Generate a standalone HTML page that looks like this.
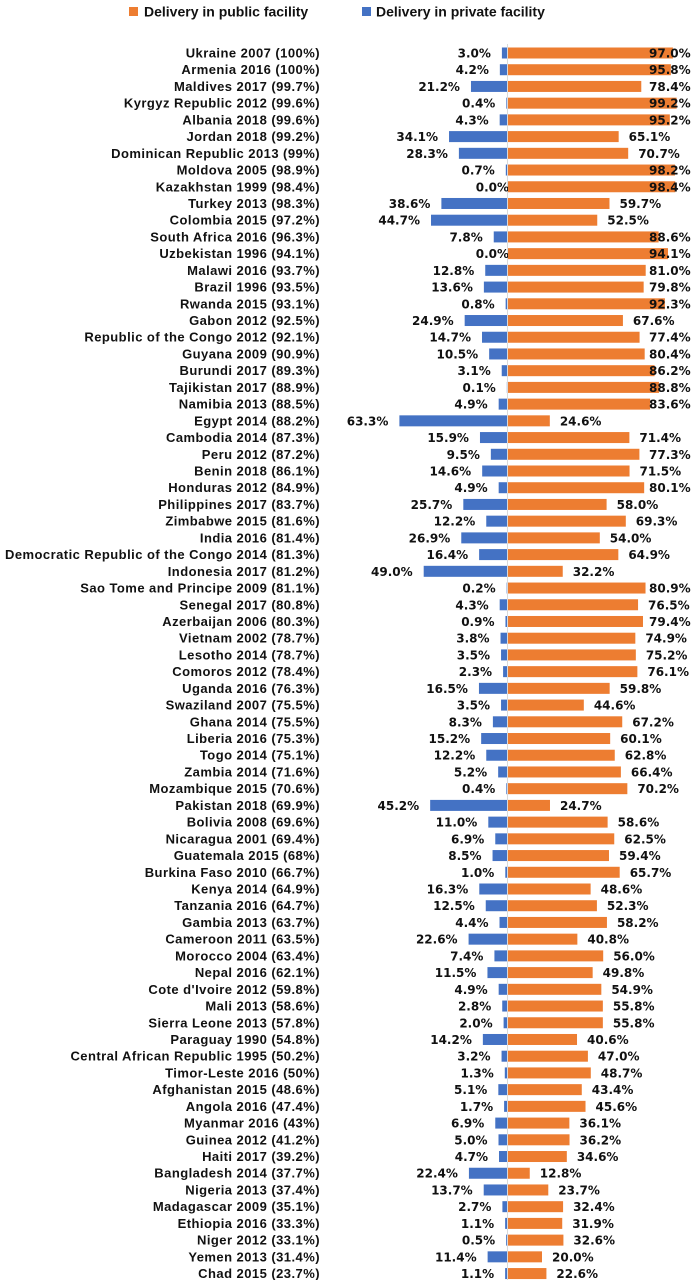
<!DOCTYPE html>
<html><head><meta charset="utf-8"><style>
html,body{margin:0;padding:0;background:#fff;}
svg{display:block;}
.lbl{font-family:"Liberation Sans",sans-serif;font-weight:bold;font-size:13px;letter-spacing:0.45px;fill:#111;}
.val{font-family:"DejaVu Sans",sans-serif;font-weight:bold;font-size:12px;fill:#111;}
.leg{font-family:"Liberation Sans",sans-serif;font-weight:bold;font-size:14px;fill:#111;}
</style></head><body>
<svg id="chart" width="695" height="1280" viewBox="0 0 695 1280" xmlns="http://www.w3.org/2000/svg">
<g>
<rect x="129" y="7" width="9" height="9" fill="#ED7D31"/>
<text class="leg" x="144" y="16.5">Delivery in public facility</text>
<rect x="362" y="7" width="9" height="9" fill="#4472C4"/>
<text class="leg" x="376" y="16.5">Delivery in private facility</text>
</g>
<line x1="507.5" y1="44" x2="507.5" y2="1280" stroke="#d9d9d9" stroke-width="1"/>
<g id="rows"></g>
</svg>
<script>
const categories = ["Ukraine 2007 (100%)","Armenia 2016 (100%)","Maldives 2017 (99.7%)","Kyrgyz Republic 2012 (99.6%)","Albania 2018 (99.6%)","Jordan 2018 (99.2%)","Dominican Republic 2013 (99%)","Moldova 2005 (98.9%)","Kazakhstan 1999 (98.4%)","Turkey 2013 (98.3%)","Colombia 2015 (97.2%)","South Africa 2016 (96.3%)","Uzbekistan 1996 (94.1%)","Malawi 2016 (93.7%)","Brazil 1996 (93.5%)","Rwanda 2015 (93.1%)","Gabon 2012 (92.5%)","Republic of the Congo 2012 (92.1%)","Guyana 2009 (90.9%)","Burundi 2017 (89.3%)","Tajikistan 2017 (88.9%)","Namibia 2013 (88.5%)","Egypt 2014 (88.2%)","Cambodia 2014 (87.3%)","Peru 2012 (87.2%)","Benin 2018 (86.1%)","Honduras 2012 (84.9%)","Philippines 2017 (83.7%)","Zimbabwe 2015 (81.6%)","India 2016 (81.4%)","Democratic Republic of the Congo 2014 (81.3%)","Indonesia 2017 (81.2%)","Sao Tome and Principe 2009 (81.1%)","Senegal 2017 (80.8%)","Azerbaijan 2006 (80.3%)","Vietnam 2002 (78.7%)","Lesotho 2014 (78.7%)","Comoros 2012 (78.4%)","Uganda 2016 (76.3%)","Swaziland 2007 (75.5%)","Ghana 2014 (75.5%)","Liberia 2016 (75.3%)","Togo 2014 (75.1%)","Zambia 2014 (71.6%)","Mozambique 2015 (70.6%)","Pakistan 2018 (69.9%)","Bolivia 2008 (69.6%)","Nicaragua 2001 (69.4%)","Guatemala 2015 (68%)","Burkina Faso 2010 (66.7%)","Kenya 2014 (64.9%)","Tanzania 2016 (64.7%)","Gambia 2013 (63.7%)","Cameroon 2011 (63.5%)","Morocco 2004 (63.4%)","Nepal 2016 (62.1%)","Cote d'Ivoire 2012 (59.8%)","Mali 2013 (58.6%)","Sierra Leone 2013 (57.8%)","Paraguay 1990 (54.8%)","Central African Republic 1995 (50.2%)","Timor-Leste 2016 (50%)","Afghanistan 2015 (48.6%)","Angola 2016 (47.4%)","Myanmar 2016 (43%)","Guinea 2012 (41.2%)","Haiti 2017 (39.2%)","Bangladesh 2014 (37.7%)","Nigeria 2013 (37.4%)","Madagascar 2009 (35.1%)","Ethiopia 2016 (33.3%)","Niger 2012 (33.1%)","Yemen 2013 (31.4%)","Chad 2015 (23.7%)"];
const privateValues = [3.0,4.2,21.2,0.4,4.3,34.1,28.3,0.7,0.0,38.6,44.7,7.8,0.0,12.8,13.6,0.8,24.9,14.7,10.5,3.1,0.1,4.9,63.3,15.9,9.5,14.6,4.9,25.7,12.2,26.9,16.4,49.0,0.2,4.3,0.9,3.8,3.5,2.3,16.5,3.5,8.3,15.2,12.2,5.2,0.4,45.2,11.0,6.9,8.5,1.0,16.3,12.5,4.4,22.6,7.4,11.5,4.9,2.8,2.0,14.2,3.2,1.3,5.1,1.7,6.9,5.0,4.7,22.4,13.7,2.7,1.1,0.5,11.4,1.1];
const publicValues = [97.0,95.8,78.4,99.2,95.2,65.1,70.7,98.2,98.4,59.7,52.5,88.6,94.1,81.0,79.8,92.3,67.6,77.4,80.4,86.2,88.8,83.6,24.6,71.4,77.3,71.5,80.1,58.0,69.3,54.0,64.9,32.2,80.9,76.5,79.4,74.9,75.2,76.1,59.8,44.6,67.2,60.1,62.8,66.4,70.2,24.7,58.6,62.5,59.4,65.7,48.6,52.3,58.2,40.8,56.0,49.8,54.9,55.8,55.8,40.6,47.0,48.7,43.4,45.6,36.1,36.2,34.6,12.8,23.7,32.4,31.9,32.6,20.0,22.6];

const NS = "http://www.w3.org/2000/svg";
const x0 = 507.5, pxPerPct = 1.70;
const xScale = v => v * pxPerPct;
const yScale = i => 53 + i * 16.72;
const barH = 11;
const g = document.getElementById('rows');
function mk(tag, attrs){const e=document.createElementNS(NS,tag);for(const k in attrs)e.setAttribute(k,attrs[k]);return e;}
categories.forEach((c,i)=>{
  const y = yScale(i);
  const row = mk('g',{});
  
  
  const lab = mk('text',{x:320,y:y+4.5,'text-anchor':'end','class':'lbl'});
  
  
  lab.textContent = c; row.appendChild(lab);
  const pv = privateValues[i], pw = xScale(pv);
  const pb = mk('rect',{x:x0-0.5-pw,y:y-barH/2,width:pw,height:barH,fill:'#4472C4'});
  
  
  row.appendChild(pb);
  const pr = pv===0 ? 509 : x0-0.5-pw-11;
  const pt = mk('text',{x:pr,y:y+4.5,'text-anchor':'end','class':'val'});
  
  
  pt.textContent = pv.toFixed(1)+'%'; row.appendChild(pt);
  const uv = publicValues[i], uw = xScale(uv);
  const ub = mk('rect',{x:x0+0.5,y:y-barH/2,width:uw,height:barH,fill:'#ED7D31'});
  
  
  row.appendChild(ub);
  const ul = Math.min(x0+0.5+uw+10, 649);
  const ut = mk('text',{x:ul,y:y+4.5,'class':'val'});
  
  
  ut.textContent = uv.toFixed(1)+'%'; row.appendChild(ut);
  g.appendChild(row);
});
</script>
</body></html>
